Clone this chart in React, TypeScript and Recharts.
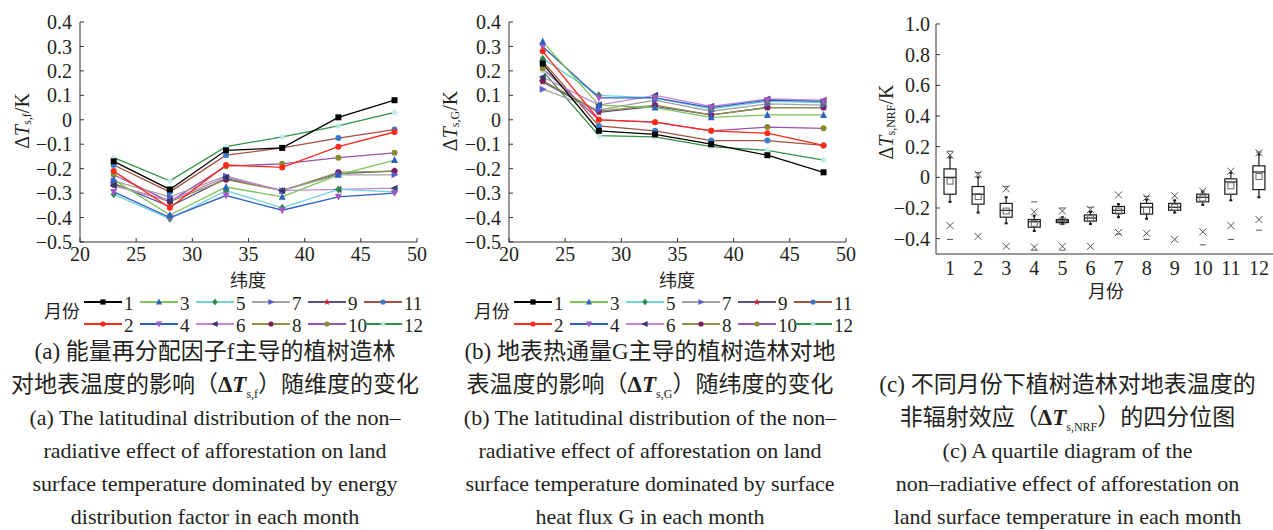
import React from 'react';
import { LineChart, Line, XAxis, YAxis, ComposedChart, Bar, Scatter } from 'recharts';

// latitude (x) for panels a and b
const latitudes = [23, 28, 33, 38, 43, 48];
const months = ['1', '2', '3', '4', '5', '6', '7', '8', '9', '10', '11', '12'];

// panel a: ΔTs,f per month
const f1 = [-0.17, -0.285, -0.125, -0.115, 0.01, 0.08];
const f2 = [-0.21, -0.36, -0.185, -0.195, -0.11, -0.05];
const f3 = [-0.245, -0.39, -0.275, -0.315, -0.225, -0.165];
const f4 = [-0.295, -0.4, -0.31, -0.37, -0.315, -0.3];
const f5 = [-0.305, -0.405, -0.29, -0.36, -0.285, -0.295];
const f6 = [-0.27, -0.33, -0.235, -0.29, -0.285, -0.28];
const f7 = [-0.25, -0.315, -0.23, -0.29, -0.225, -0.225];
const f8 = [-0.265, -0.335, -0.245, -0.29, -0.215, -0.21];
const f9 = [-0.26, -0.355, -0.24, -0.29, -0.22, -0.21];
const f10 = [-0.225, -0.335, -0.19, -0.18, -0.155, -0.135];
const f11 = [-0.185, -0.295, -0.145, -0.115, -0.075, -0.04];
const f12 = [-0.155, -0.25, -0.11, -0.07, -0.025, 0.03];

// panel b: ΔTs,G per month
const g1 = [0.23, -0.045, -0.06, -0.1, -0.145, -0.215];
const g2 = [0.28, 0.0, -0.01, -0.045, -0.055, -0.105];
const g3 = [0.32, 0.06, 0.05, 0.01, 0.02, 0.02];
const g4 = [0.3, 0.09, 0.09, 0.05, 0.08, 0.075];
const g5 = [0.25, 0.1, 0.09, 0.045, 0.075, 0.07];
const g6 = [0.175, 0.06, 0.1, 0.055, 0.085, 0.08];
const g7 = [0.125, 0.04, 0.08, 0.035, 0.065, 0.06];
const g8 = [0.16, 0.035, 0.06, 0.02, 0.05, 0.05];
const g9 = [0.155, 0.03, 0.055, 0.02, 0.05, 0.05];
const g10 = [0.21, 0.0, -0.01, -0.045, -0.03, -0.035];
const g11 = [0.24, -0.025, -0.045, -0.085, -0.085, -0.105];
const g12 = [0.2, -0.065, -0.07, -0.11, -0.125, -0.165];

// panel c: quartile diagram per month
const boxQ1 = [-0.11, -0.175, -0.26, -0.325, -0.295, -0.285, -0.235, -0.24, -0.215, -0.16, -0.11, -0.08];
const boxMedian = [0.0, -0.11, -0.215, -0.29, -0.285, -0.265, -0.215, -0.195, -0.195, -0.13, -0.03, 0.035];
const boxQ3 = [0.055, -0.06, -0.17, -0.275, -0.275, -0.245, -0.19, -0.17, -0.17, -0.11, -0.01, 0.075];
const boxMean = [-0.025, -0.125, -0.22, -0.3, -0.285, -0.27, -0.22, -0.215, -0.195, -0.135, -0.055, 0.005];
const whiskerLow = [-0.16, -0.23, -0.3, -0.35, -0.305, -0.305, -0.26, -0.27, -0.23, -0.18, -0.15, -0.13];
const whiskerHigh = [0.13, 0.0, -0.13, -0.25, -0.26, -0.225, -0.175, -0.145, -0.15, -0.09, 0.03, 0.15];
const pct1 = [-0.315, -0.385, -0.45, -0.455, -0.45, -0.45, -0.36, -0.365, -0.405, -0.355, -0.315, -0.275];
const pct99 = [0.145, 0.02, -0.075, -0.225, -0.22, -0.21, -0.115, -0.13, -0.12, -0.09, 0.04, 0.16];
const minVal = [-0.405, null, null, -0.475, -0.475, null, -0.37, -0.405, null, -0.44, -0.405, -0.345];
const maxVal = [0.17, 0.03, -0.06, -0.16, -0.2, -0.195, null, -0.125, null, null, null, 0.165];

const yTicksAB = [-0.5, -0.4, -0.3, -0.2, -0.1, 0, 0.1, 0.2, 0.3, 0.4];
const xTicksAB = [20, 25, 30, 35, 40, 45, 50];
const yTicksC = [-0.4, -0.2, 0, 0.2, 0.4, 0.6, 0.8, 1.0];

const fSeries = [f1, f2, f3, f4, f5, f6, f7, f8, f9, f10, f11, f12];
const gSeries = [g1, g2, g3, g4, g5, g6, g7, g8, g9, g10, g11, g12];

const lineColors = ['#000000', '#ff2a1a', '#7cc55a', '#2f5fc4', '#6fd3d8', '#c584d4', '#a3a3a3', '#8f8f48', '#5b4f8a', '#9852b0', '#a0523f', '#2f9344'];
const markerColors = ['#000000', '#ff2a1a', '#2d62c0', '#a855c8', '#2a8a4a', '#2f3a6a', '#5a5ad0', '#7a1d5a', '#c62828', '#8a8a32', '#3a7cc8', '#bfe8e8'];
const markerShapes = ['square', 'circle', 'triUp', 'triDown', 'diamond', 'triLeft', 'triRight', 'circle', 'star', 'circle', 'circle', 'asterisk'];

const SERIF = "'Liberation Serif', 'Noto Sans CJK SC', serif";
const INK = '#231f20';

const toTable = (series: number[][]) =>
  latitudes.map((lat, i) => {
    const row: any = { lat };
    series.forEach((s, k) => (row[`m${k + 1}`] = s[i]));
    return row;
  });

const tableF = toTable(fSeries);
const tableG = toTable(gSeries);

const boxTable = months.map((m, i) => ({
  month: m,
  q1: boxQ1[i],
  median: boxMedian[i],
  q3: boxQ3[i],
  mean: boxMean[i],
  lo: whiskerLow[i],
  hi: whiskerHigh[i],
  p1: pct1[i],
  p99: pct99[i],
  min: minVal[i],
  max: maxVal[i],
}));

const fmt = (v: number) => (v === 0 ? '0' : v.toFixed(1).replace('-', '\u2212'));
const tickStyle = { fill: INK, fontSize: 20, fontFamily: SERIF };

function Marker({ cx, cy, shape, color, s = 3 }: any) {
  if (cx == null || cy == null || isNaN(cx) || isNaN(cy)) return null;
  switch (shape) {
    case 'square':
      return <rect x={cx - s} y={cy - s} width={2 * s} height={2 * s} fill={color} />;
    case 'circle':
      return <circle cx={cx} cy={cy} r={s} fill={color} />;
    case 'triUp':
      return <polygon points={`${cx},${cy - s - 1} ${cx - s - 0.5},${cy + s} ${cx + s + 0.5},${cy + s}`} fill={color} />;
    case 'triDown':
      return <polygon points={`${cx},${cy + s + 1} ${cx - s - 0.5},${cy - s} ${cx + s + 0.5},${cy - s}`} fill={color} />;
    case 'triLeft':
      return <polygon points={`${cx - s - 1},${cy} ${cx + s},${cy - s - 0.5} ${cx + s},${cy + s + 0.5}`} fill={color} />;
    case 'triRight':
      return <polygon points={`${cx + s + 1},${cy} ${cx - s},${cy - s - 0.5} ${cx - s},${cy + s + 0.5}`} fill={color} />;
    case 'diamond':
      return <polygon points={`${cx},${cy - s - 1} ${cx + s},${cy} ${cx},${cy + s + 1} ${cx - s},${cy}`} fill={color} />;
    case 'star': {
      const pts: string[] = [];
      for (let k = 0; k < 10; k++) {
        const r = k % 2 === 0 ? s + 1 : (s + 1) * 0.45;
        const a = -Math.PI / 2 + (k * Math.PI) / 5;
        pts.push(`${cx + r * Math.cos(a)},${cy + r * Math.sin(a)}`);
      }
      return <polygon points={pts.join(' ')} fill={color} />;
    }
    case 'asterisk':
      return (
        <g stroke={color} strokeWidth={1.2}>
          <line x1={cx - s} y1={cy} x2={cx + s} y2={cy} />
          <line x1={cx} y1={cy - s} x2={cx} y2={cy + s} />
          <line x1={cx - s * 0.7} y1={cy - s * 0.7} x2={cx + s * 0.7} y2={cy + s * 0.7} />
          <line x1={cx - s * 0.7} y1={cy + s * 0.7} x2={cx + s * 0.7} y2={cy - s * 0.7} />
        </g>
      );
    default:
      return null;
  }
}

function LatitudeChart({ data }: { data: any[] }) {
  const order = months.map((_, k) => 11 - k);
  return (
    <LineChart width={430} height={270} data={data} margin={{ top: 22, right: 13, bottom: 0, left: 0 }}>
      <XAxis
        dataKey="lat"
        type="number"
        domain={[20, 50]}
        ticks={xTicksAB}
        interval={0}
        height={28}
        tickSize={-4}
        tickMargin={9}
        tick={tickStyle}
        stroke="#333"
      />
      <YAxis
        type="number"
        domain={[-0.5, 0.4]}
        ticks={yTicksAB}
        interval={0}
        width={80}
        tickSize={-4}
        tickMargin={12}
        tickFormatter={fmt}
        tick={tickStyle}
        stroke="#333"
      />
      {order.map((k) => (
        <Line
          key={k}
          type="linear"
          dataKey={`m${k + 1}`}
          stroke={lineColors[k]}
          strokeWidth={1.3}
          isAnimationActive={false}
          dot={(p: any) => (
            <Marker key={`d${k}-${p.index}`} cx={p.cx} cy={p.cy} shape={markerShapes[k]} color={markerColors[k]} />
          )}
        />
      ))}
    </LineChart>
  );
}

function BoxShape(props: any) {
  const { x, y, width, height, payload } = props;
  if (!payload || height == null) return null;
  const top = Math.min(y, y + height);
  const bot = Math.max(y, y + height);
  const hi = payload.hi;
  const lo = payload.lo;
  const py = (v: number) => top + ((hi - v) / (hi - lo)) * (bot - top);
  const cx = x + width / 2;
  const yq3 = py(payload.q3);
  const yq1 = py(payload.q1);
  const ymed = py(payload.median);
  return (
    <g stroke="#1a1a1a" strokeWidth={1.2} fill="none">
      <line x1={cx} y1={top} x2={cx} y2={yq3} />
      <line x1={cx} y1={yq1} x2={cx} y2={bot} />
      <line x1={cx - 1.5} y1={top} x2={cx + 1.5} y2={top} strokeWidth={2} />
      <line x1={cx - 1.5} y1={bot} x2={cx + 1.5} y2={bot} strokeWidth={2} />
      <rect x={x} y={yq3} width={width} height={Math.max(yq1 - yq3, 1)} fill="#fff" />
      <line x1={x} y1={ymed} x2={x + width} y2={ymed} />
    </g>
  );
}

const okPoint = (p: any, key: string) =>
  p && p.payload && p.payload[key] != null && Number.isFinite(p.cx) && Number.isFinite(p.cy);

function QuartileChart() {
  return (
    <ComposedChart width={413} height={300} data={boxTable} margin={{ top: 24, right: 0, bottom: 0, left: 0 }}>
      <XAxis
        dataKey="month"
        type="category"
        interval={0}
        height={46}
        tickLine={false}
        tickSize={0}
        tickMargin={7}
        tick={tickStyle}
        stroke="#333"
      />
      <YAxis
        type="number"
        domain={[-0.5, 1.0]}
        ticks={yTicksC}
        interval={0}
        width={76}
        tickSize={-4}
        tickMargin={10}
        tickFormatter={fmt}
        tick={tickStyle}
        stroke="#333"
      />
      <Bar
        dataKey={(d: any) => [d.lo, d.hi]}
        barSize={12}
        isAnimationActive={false}
        shape={(p: any) => <BoxShape {...p} />}
      />
      <Scatter
        dataKey="mean"
        isAnimationActive={false}
        shape={(p: any) =>
          okPoint(p, 'mean') ? (
            <rect x={p.cx - 3} y={p.cy - 3} width={6} height={6} fill="none" stroke="#666" strokeWidth={1} />
          ) : <g />
        }
      />
      {['p1', 'p99'].map((key) => (
        <Scatter
          key={key}
          dataKey={key}
          isAnimationActive={false}
          shape={(p: any) =>
            okPoint(p, key) ? (
              <g stroke="#555" strokeWidth={1}>
                <line x1={p.cx - 3.5} y1={p.cy - 3.5} x2={p.cx + 3.5} y2={p.cy + 3.5} />
                <line x1={p.cx - 3.5} y1={p.cy + 3.5} x2={p.cx + 3.5} y2={p.cy - 3.5} />
              </g>
            ) : <g />
          }
        />
      ))}
      {['min', 'max'].map((key) => (
        <Scatter
          key={key}
          dataKey={key}
          isAnimationActive={false}
          shape={(p: any) =>
            okPoint(p, key) ? (
              <line x1={p.cx - 3} y1={p.cy} x2={p.cx + 3} y2={p.cy} stroke="#555" strokeWidth={1} />
            ) : <g />
          }
        />
      ))}
    </ComposedChart>
  );
}

function AxisTitle({ cx, cy, sub }: { cx: number; cy: number; sub: string }) {
  return (
    <text
      x={cx}
      y={cy}
      transform={`rotate(-90, ${cx}, ${cy})`}
      textAnchor="middle"
      dominantBaseline="central"
      fontFamily={SERIF}
      fontSize={20}
      fill={INK}
    >
      Δ<tspan fontStyle="italic">T</tspan>
      <tspan fontSize={12} dy={5}>{sub}</tspan>
      <tspan dy={-5}>/K</tspan>
    </text>
  );
}

function LegendBlock({ ox }: { ox: number }) {
  return (
    <g fontFamily={SERIF} fill={INK}>
      <text x={ox + 44} y={312} fontSize={18} dominantBaseline="central">月份</text>
      {months.map((m, k) => {
        const row = k % 2;
        const col = Math.floor(k / 2);
        const x0 = ox + 84 + col * 56;
        const y = 302 + row * 22;
        return (
          <g key={m}>
            <line x1={x0} x2={x0 + 38} y1={y} y2={y} stroke={lineColors[k]} strokeWidth={2} />
            <Marker cx={x0 + 19} cy={y} shape={markerShapes[k]} color={markerColors[k]} s={2.6} />
            <text x={x0 + 40} y={y + 1} fontSize={19} dominantBaseline="central">{m}</text>
          </g>
        );
      })}
    </g>
  );
}

function Sub({ children }: { children: React.ReactNode }) {
  return <span style={{ fontSize: 12, verticalAlign: -6, lineHeight: 0 }}>{children}</span>;
}

const dT = (
  <span style={{ fontWeight: 'bold' }}>
    Δ<i>T</i>
  </span>
);

function Caption({ left, top, width, lines }: { left: number; top: number; width: number; lines: React.ReactNode[] }) {
  return (
    <div
      style={{
        position: 'absolute',
        left,
        top,
        width,
        textAlign: 'center',
        fontSize: 22,
        color: INK,
        fontFamily: SERIF,
        whiteSpace: 'nowrap',
      }}
    >
      {lines.map((l, i) => (
        <div key={i} style={{ height: 33, lineHeight: '33px', overflow: 'visible' }}>{l}</div>
      ))}
    </div>
  );
}

export default function App() {
  return (
    <div style={{ position: 'absolute', left: 0, top: 0, width: 1273, height: 530, background: '#fff', overflow: 'hidden' }}>
      <div style={{ position: 'absolute', left: 0, top: 0 }}>
        <LatitudeChart data={tableF} />
      </div>
      <div style={{ position: 'absolute', left: 429, top: 0 }}>
        <LatitudeChart data={tableG} />
      </div>
      <div style={{ position: 'absolute', left: 860, top: 0 }}>
        <QuartileChart />
      </div>
      <svg width={1273} height={340} style={{ position: 'absolute', left: 0, top: 0, pointerEvents: 'none' }}>
        <AxisTitle cx={22} cy={121} sub="s,f" />
        <AxisTitle cx={450} cy={121} sub="s,G" />
        <AxisTitle cx={886} cy={122} sub="s,NRF" />
        <text x={248} y={281} textAnchor="middle" dominantBaseline="central" fontFamily={SERIF} fontSize={18} fill={INK}>纬度</text>
        <text x={677} y={281} textAnchor="middle" dominantBaseline="central" fontFamily={SERIF} fontSize={18} fill={INK}>纬度</text>
        <text x={1106} y={292} textAnchor="middle" dominantBaseline="central" fontFamily={SERIF} fontSize={18} fill={INK}>月份</text>
        <LegendBlock ox={0} />
        <LegendBlock ox={430} />
      </svg>
      <Caption
        left={0}
        top={335}
        width={430}
        lines={[
          <span style={{ fontSize: 23 }}>(a) 能量再分配因子f主导的植树造林</span>,
          <span style={{ fontSize: 23 }}>对地表温度的影响（{dT}<Sub>s,f</Sub>）随维度的变化</span>,
          '(a) The latitudinal distribution of the non–',
          'radiative effect of afforestation on land',
          'surface temperature dominated by energy',
          'distribution factor in each month',
        ]}
      />
      <Caption
        left={430}
        top={335}
        width={440}
        lines={[
          <span style={{ fontSize: 23 }}>(b) 地表热通量G主导的植树造林对地</span>,
          <span style={{ fontSize: 23 }}>表温度的影响（{dT}<Sub>s,G</Sub>）随纬度的变化</span>,
          '(b) The latitudinal distribution of the non–',
          'radiative effect of afforestation on land',
          'surface temperature dominated by surface',
          'heat flux G in each month',
        ]}
      />
      <Caption
        left={862}
        top={368}
        width={411}
        lines={[
          <span style={{ fontSize: 23 }}>(c) 不同月份下植树造林对地表温度的</span>,
          <span style={{ fontSize: 23 }}>非辐射效应（{dT}<Sub>s,NRF</Sub>）的四分位图</span>,
          '(c) A quartile diagram of the',
          'non–radiative effect of afforestation on',
          'land surface temperature in each month',
        ]}
      />
    </div>
  );
}
